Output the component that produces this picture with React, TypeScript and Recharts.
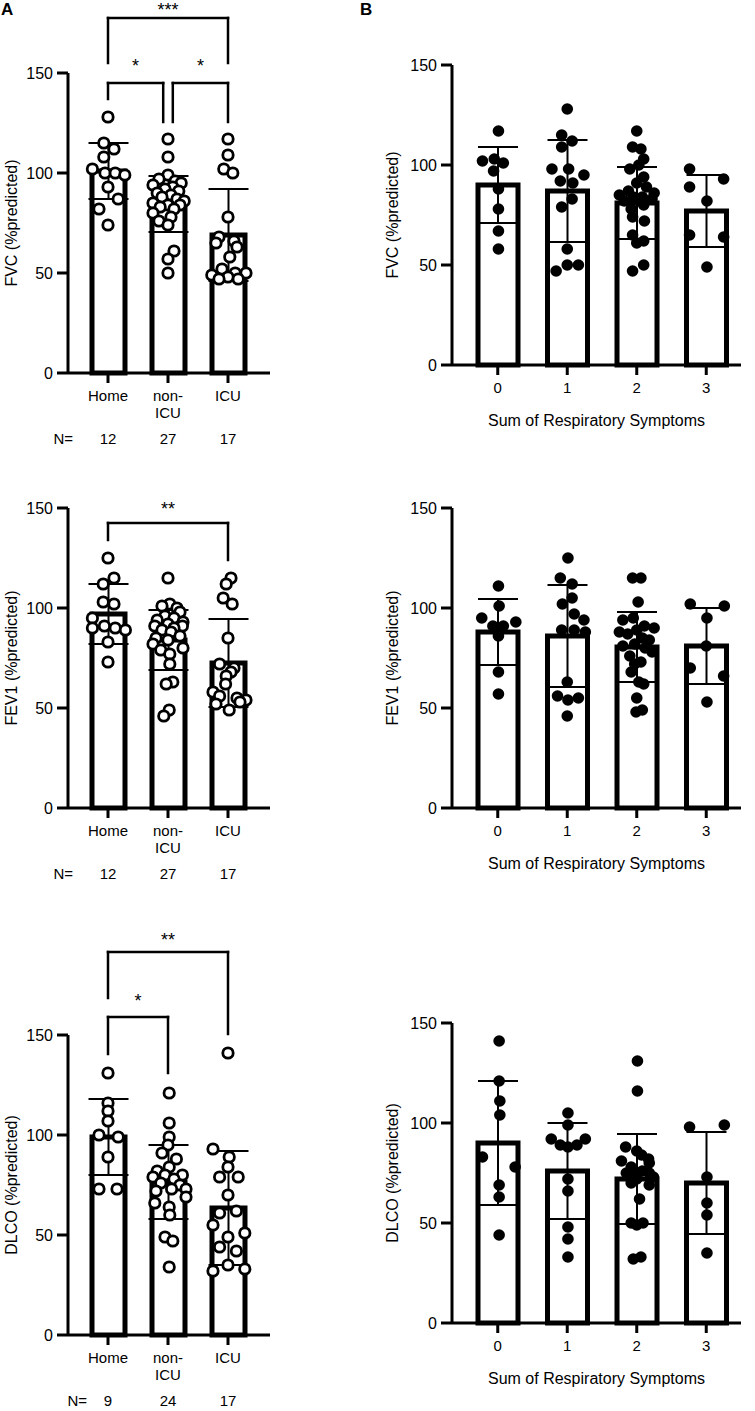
import React from 'react';
import { ComposedChart, Bar, ErrorBar, Scatter, XAxis, YAxis, ReferenceLine } from 'recharts';

const FONT = 'Arial, "Liberation Sans", sans-serif';

// categories
const settings = ['Home', 'non-\nICU', 'ICU'];
const symptoms = ['0', '1', '2', '3'];
const yTicks = [0, 50, 100, 150];

// group sizes under panel A
const nFvc = [12, 27, 17];
const nFev1 = [12, 27, 17];
const nDlco = [9, 24, 17];

// bar heights (mean) and SD whiskers
const fvcSettingMean = [101, 84.5, 69];
const fvcSettingSd = [14, 14, 23];
const fev1SettingMean = [97, 84, 72.5];
const fev1SettingSd = [15, 15, 22];
const dlcoSettingMean = [99, 76.5, 63.5];
const dlcoSettingSd = [19, 18.5, 28.5];

const fvcSymMean = [90, 87, 81, 77];
const fvcSymSd = [19, 25.5, 18, 18];
const fev1SymMean = [88, 86, 80.5, 81];
const fev1SymSd = [16.5, 25.5, 17.5, 19];
const dlcoSymMean = [90, 76, 72, 70];
const dlcoSymSd = [31, 24, 22.5, 25.5];

// individual patients: [horizontal jitter in category widths, value]
type Pt = [number, number];

const fvcHome: Pt[] = [[0, 128], [-0.07, 115], [0.1, 112], [-0.07, 108], [-0.26, 102], [-0.05, 100], [0.12, 100], [0.28, 99], [0, 93], [0.17, 87], [-0.15, 82], [0, 74]];
const fvcNonIcu: Pt[] = [[0, 117], [0, 108], [0, 99], [-0.15, 97], [0.12, 96], [0.22, 95], [-0.25, 94], [0.08, 93], [-0.05, 92], [0.18, 91], [-0.18, 90], [0.05, 89], [-0.1, 88], [0.15, 87], [0.27, 86], [-0.25, 85], [0, 84], [0.2, 84], [-0.13, 83], [0.1, 82], [-0.25, 80], [0.05, 78], [-0.15, 76], [0, 74], [0.1, 61], [0, 57], [0, 50]];
const fvcIcu: Pt[] = [[0, 117], [0, 109], [-0.07, 102], [0.08, 100], [0, 78], [-0.15, 68], [0.1, 66], [-0.2, 65], [0.15, 63], [0.03, 58], [-0.1, 52], [0.3, 50], [0.12, 50], [-0.27, 49], [0, 48], [0.17, 47], [-0.15, 47]];

const fev1Home: Pt[] = [[0, 125], [0.1, 115], [-0.08, 112], [-0.08, 103], [0.1, 102], [-0.26, 95], [-0.06, 91], [0.12, 90], [-0.26, 90], [0.29, 89], [0, 83], [0, 73]];
const fev1NonIcu: Pt[] = [[0, 115], [0.03, 102], [-0.1, 101], [0.15, 100], [0.2, 98], [-0.05, 96], [0.1, 95], [-0.18, 94], [0.25, 93], [0, 92], [-0.22, 91], [0.24, 91], [0.1, 90], [-0.1, 89], [0.05, 88], [0.2, 86], [-0.2, 85], [0, 84], [-0.25, 82], [0.25, 80], [-0.12, 79], [0.03, 77], [0.03, 72], [0.08, 63], [-0.03, 62], [0.02, 49], [-0.07, 46]];
const fev1Icu: Pt[] = [[0.05, 115], [-0.03, 112], [-0.08, 105], [0.07, 102], [0, 85], [-0.14, 72], [0.1, 70], [0.05, 68], [-0.03, 66], [-0.04, 62], [-0.25, 58], [-0.14, 56], [0.15, 55], [0.3, 54], [0.2, 53], [-0.2, 52], [0.02, 49]];

const dlcoHome: Pt[] = [[0, 131], [0, 116], [0, 112], [0, 107], [-0.15, 100], [0.17, 99], [0, 89], [-0.15, 73], [0.15, 73]];
const dlcoNonIcu: Pt[] = [[0.02, 121], [0.02, 106], [0.02, 99], [0, 95], [-0.1, 91], [0.14, 88], [0.02, 84], [-0.18, 82], [0.24, 80], [-0.05, 80], [-0.25, 79], [0.1, 78], [-0.12, 76], [0.2, 75], [0.06, 73], [0.3, 73], [-0.2, 72], [0.3, 69], [-0.22, 66], [0.02, 64], [0.03, 60], [-0.05, 49], [0.08, 47], [0.02, 34]];
const dlcoIcu: Pt[] = [[0, 141], [-0.25, 93], [0.02, 89], [0, 84], [-0.14, 79], [0.17, 79], [0, 70], [0.14, 62], [-0.14, 61], [-0.25, 55], [0.28, 51], [0, 49], [-0.14, 44], [0.14, 42], [0, 35], [-0.25, 32], [0.28, 33]];

const fvcSym0: Pt[] = [[0.01, 117], [-0.22, 102], [-0.05, 103], [0.08, 101], [-0.06, 97], [0.01, 88], [0.01, 78], [0.01, 67], [0.01, 58]];
const fvcSym1: Pt[] = [[0, 128], [-0.08, 115], [0.07, 112], [-0.08, 109], [-0.22, 98], [0.02, 98], [0.24, 95], [-0.1, 92], [0.08, 91], [0.07, 83], [-0.08, 79], [0, 58], [0, 50], [0.16, 50], [-0.16, 47]];
const fvcSym2: Pt[] = [[0, 117], [-0.06, 109], [0.06, 108], [0.1, 103], [0.03, 100], [-0.1, 98], [0.1, 94], [0, 91], [0.14, 89], [-0.12, 87], [0.25, 86], [-0.25, 85], [0.08, 84], [-0.05, 84], [0.22, 83], [-0.18, 82], [0.1, 80], [-0.08, 78], [-0.06, 74], [0.11, 72], [-0.06, 65], [0.1, 62], [0, 61], [0.1, 50], [-0.06, 47]];
const fvcSym3: Pt[] = [[-0.24, 98], [-0.24, 89], [0.25, 93], [0.01, 82], [-0.24, 65], [0.25, 64], [0.01, 49]];

const fev1Sym0: Pt[] = [[0.01, 111], [0.02, 101], [-0.23, 95], [-0.07, 91], [0.08, 91], [0.26, 93], [0.01, 86], [0.01, 68], [0.01, 57]];
const fev1Sym1: Pt[] = [[0.01, 125], [-0.1, 115], [0.07, 112], [0.07, 105], [-0.07, 102], [0.1, 97], [0.24, 94], [-0.08, 89], [0.1, 89], [0.26, 88], [0, 63], [-0.14, 56], [0.16, 55], [0.01, 54], [0, 46]];
const fev1Sym2: Pt[] = [[-0.06, 115], [0.06, 115], [0.02, 103], [-0.05, 95], [-0.2, 94], [0.11, 91], [0.25, 90], [0, 89], [-0.25, 88], [-0.13, 87], [0.08, 85], [0.18, 84], [-0.03, 82], [-0.2, 81], [0.12, 80], [0.22, 78], [-0.1, 76], [0.06, 73], [-0.03, 72], [-0.08, 68], [0.03, 63], [0.1, 62], [0, 55], [0.08, 49], [-0.01, 48]];
const fev1Sym3: Pt[] = [[-0.23, 102], [0.26, 101], [0.01, 95], [0, 81], [-0.23, 70], [0.25, 66], [0.01, 53]];

const dlcoSym0: Pt[] = [[0.02, 141], [0.02, 121], [0.03, 111], [0.03, 104], [-0.22, 83], [0.25, 78], [0.02, 69], [0.02, 63], [0.02, 44]];
const dlcoSym1: Pt[] = [[0.01, 105], [0.01, 99], [-0.23, 92], [-0.1, 89], [0.01, 88], [0.14, 89], [0.26, 92], [0.01, 72], [0.01, 66], [0.01, 48], [0.01, 42], [0.01, 33]];
const dlcoSym2: Pt[] = [[0.01, 131], [0.01, 116], [-0.16, 88], [0, 86], [0.07, 84], [0.17, 82], [-0.22, 81], [0.18, 80], [-0.08, 78], [0.08, 76], [0.18, 75], [-0.15, 75], [-0.03, 74], [0.24, 73], [0, 72], [-0.08, 70], [0.18, 69], [0.04, 62], [-0.08, 50], [0.09, 50], [0, 49], [0.06, 33], [-0.05, 32]];
const dlcoSym3: Pt[] = [[-0.24, 98], [0.26, 99], [0.01, 73], [0.01, 60], [0.01, 54], [0.01, 35]];

// significance brackets: x in category index, y in data units
type Bracket = { from: number; to: number; y: number; dropFrom: number; dropTo: number; text: string; gap: number };
const fvcBrackets: Bracket[] = [
  { from: 0, to: 2, y: 177.5, dropFrom: 155, dropTo: 155, text: '***', gap: 2 },
  { from: 0, to: 0.92, y: 145, dropFrom: 137, dropTo: 125.5, text: '*', gap: 11 },
  { from: 1.08, to: 2, y: 145, dropFrom: 125.5, dropTo: 125.5, text: '*', gap: 11 },
];
const fev1Brackets: Bracket[] = [
  { from: 0, to: 2, y: 142.5, dropFrom: 134, dropTo: 124, text: '**', gap: 8 },
];
const dlcoBrackets: Bracket[] = [
  { from: 0, to: 2, y: 191.5, dropFrom: 168.5, dropTo: 150.5, text: '**', gap: 6 },
  { from: 0, to: 1, y: 159, dropFrom: 140.5, dropTo: 131, text: '*', gap: 10 },
];

const axisStroke = { stroke: '#000', strokeWidth: 3 };

const hollowDot = (p: any) => <circle cx={p.cx} cy={p.cy} r={5.2} fill="#fff" stroke="#000" strokeWidth={2.8} />;
const solidDot = (p: any) => <circle cx={p.cx} cy={p.cy} r={5.8} fill="#000" />;

function CatTick({ x, y, payload }: any) {
  const lines = String(payload.value).split('\n');
  return (
    <text x={x} y={y} textAnchor="middle" fill="#000" fontSize={15}>
      {lines.map((l, i) => (
        <tspan key={i} x={x} dy={i === 0 ? '0.71em' : '1.15em'}>{l}</tspan>
      ))}
    </text>
  );
}

function Panel(props: any) {
  const { top, left, width, height, marginTop, marginRight, yWidth, yLabel, yLabelOffset, cats, means, sds, groups, pad, barSize, filled, ns, nGap, xLabel, brackets } = props;
  const data = cats.map((name: string, i: number) => ({ name, mean: means[i], sd: sds[i] }));
  const pts = groups.flatMap((g: Pt[], i: number) => g.map(([dx, v]) => ({ x: i + dx, y: v })));
  const lineProps = { xAxisId: 'num', ifOverflow: 'visible' as const, stroke: '#000', strokeWidth: 2.5, strokeLinecap: 'square' as const };
  return (
    <div style={{ position: 'absolute', left, top }}>
      <ComposedChart width={width} height={height} data={data} margin={{ top: marginTop, right: marginRight, bottom: 0, left: 0 }}>
        <XAxis
          xAxisId="cat"
          dataKey="name"
          padding={pad}
          height={xLabel ? 66 : 52}
          tickSize={10}
          tickMargin={7}
          axisLine={axisStroke}
          tickLine={axisStroke}
          tick={<CatTick />}
          interval={0}
          label={xLabel ? { value: xLabel, position: 'insideBottom', offset: 5, fill: '#000', fontSize: 16 } : undefined}
        />
        {ns && (
          <XAxis
            xAxisId="n"
            dataKey="name"
            padding={pad}
            height={30}
            tickSize={0}
            tickMargin={8}
            axisLine={false}
            tickLine={false}
            interval={0}
            tick={(t: any) => (
              <g>
                {t.index === 0 && (
                  <text x={t.x - nGap} y={t.y} dy="0.71em" textAnchor="end" fill="#000" fontSize={15}>N=</text>
                )}
                <text x={t.x} y={t.y} dy="0.71em" textAnchor="middle" fill="#000" fontSize={15}>{ns[t.index]}</text>
              </g>
            )}
          />
        )}
        <XAxis xAxisId="num" type="number" dataKey="x" domain={[-0.5, cats.length - 0.5]} padding={pad} hide allowDataOverflow />
        <YAxis
          width={yWidth}
          domain={[0, 150]}
          ticks={yTicks}
          interval={0}
          tickSize={11}
          tickMargin={4}
          axisLine={axisStroke}
          tickLine={axisStroke}
          tick={{ fill: '#000', fontSize: 16 }}
          label={{ value: yLabel, angle: -90, position: 'insideLeft', offset: yLabelOffset, fill: '#000', fontSize: 16, style: { textAnchor: 'middle' } }}
        />
        <Bar xAxisId="cat" dataKey="mean" barSize={barSize} fill="#fff" stroke="#000" strokeWidth={5} isAnimationActive={false}>
          <ErrorBar dataKey="sd" direction="y" width={20} stroke="#000" strokeWidth={2} />
        </Bar>
        <Scatter xAxisId="num" data={pts} dataKey="y" shape={filled ? solidDot : hollowDot} isAnimationActive={false} />
        {(brackets || []).flatMap((b: Bracket, i: number) => [
          <ReferenceLine
            key={`h${i}`}
            {...lineProps}
            segment={[{ x: b.from, y: b.y }, { x: b.to, y: b.y }]}
            label={{ value: b.text, position: 'top', offset: b.gap, fill: '#000', fontSize: 18 }}
          />,
          <ReferenceLine key={`l${i}`} {...lineProps} segment={[{ x: b.from, y: b.y }, { x: b.from, y: b.dropFrom }]} />,
          <ReferenceLine key={`r${i}`} {...lineProps} segment={[{ x: b.to, y: b.y }, { x: b.to, y: b.dropTo }]} />,
        ])}
      </ComposedChart>
    </div>
  );
}

const aLayout = { left: 0, width: 280, marginRight: 10, yWidth: 68, yLabelOffset: 11, pad: { left: 10, right: 12 }, barSize: 33, cats: settings };
const bLayout = { left: 370, width: 375, marginRight: 4, yWidth: 82, yLabelOffset: 22, pad: { left: 11, right: 0 }, barSize: 40, cats: symptoms, filled: true, xLabel: 'Sum of Respiratory Symptoms' };

export default function App() {
  return (
    <div style={{ position: 'absolute', left: 0, top: 0, width: 755, height: 1411, overflow: 'hidden', background: '#fff', fontFamily: FONT }}>
      <div style={{ position: 'absolute', left: 1, top: 0, fontWeight: 'bold', fontSize: 17 }}>A</div>
      <div style={{ position: 'absolute', left: 360, top: 0, fontWeight: 'bold', fontSize: 17 }}>B</div>

      <Panel {...aLayout} top={0} height={455} marginTop={73} yLabel="FVC (%predicted)" means={fvcSettingMean} sds={fvcSettingSd} groups={[fvcHome, fvcNonIcu, fvcIcu]} ns={nFvc} nGap={35} brackets={fvcBrackets} />
      <Panel {...aLayout} top={460} height={430} marginTop={48} yLabel="FEV1 (%predicted)" means={fev1SettingMean} sds={fev1SettingSd} groups={[fev1Home, fev1NonIcu, fev1Icu]} ns={nFev1} nGap={35} brackets={fev1Brackets} />
      <Panel {...aLayout} top={880} height={537} marginTop={155} yLabel="DLCO (%predicted)" means={dlcoSettingMean} sds={dlcoSettingSd} groups={[dlcoHome, dlcoNonIcu, dlcoIcu]} ns={nDlco} nGap={21} brackets={dlcoBrackets} />

      <Panel {...bLayout} top={0} height={431} marginTop={65} yLabel="FVC (%predicted)" means={fvcSymMean} sds={fvcSymSd} groups={[fvcSym0, fvcSym1, fvcSym2, fvcSym3]} />
      <Panel {...bLayout} top={460} height={414} marginTop={48} yLabel="FEV1 (%predicted)" means={fev1SymMean} sds={fev1SymSd} groups={[fev1Sym0, fev1Sym1, fev1Sym2, fev1Sym3]} />
      <Panel {...bLayout} top={960} height={429} marginTop={63} yLabel="DLCO (%predicted)" means={dlcoSymMean} sds={dlcoSymSd} groups={[dlcoSym0, dlcoSym1, dlcoSym2, dlcoSym3]} />
    </div>
  );
}
